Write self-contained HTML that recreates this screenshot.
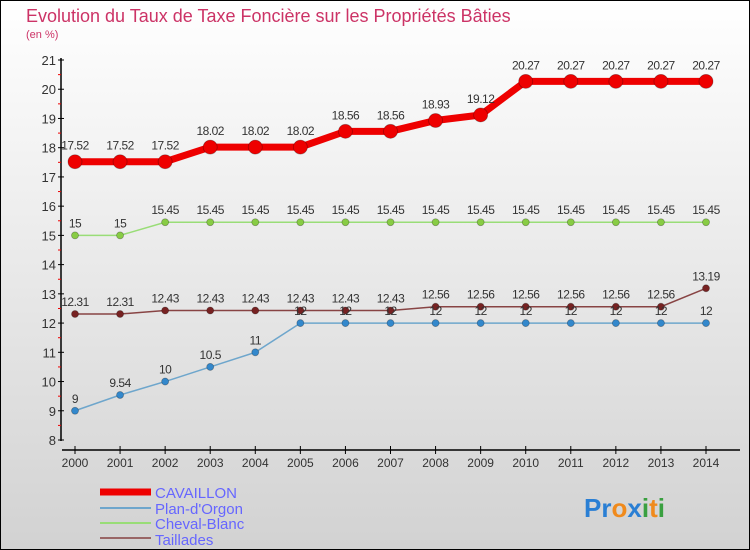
<!DOCTYPE html>
<html><head><meta charset="utf-8"><style>
body{margin:0}
svg{display:block}
text{font-family:"Liberation Sans",sans-serif}
</style></head><body>
<svg id="c" width="750" height="550">
<defs><linearGradient id="bg" x1="0" y1="0" x2="0" y2="1"><stop offset="0" stop-color="#ffffff"/><stop offset="1" stop-color="#d2d2d2"/></linearGradient></defs>
<rect x="0.5" y="0.5" width="749" height="549" fill="url(#bg)" stroke="#000"/>
<text x="26" y="22" font-size="18" fill="#cc3366">Evolution du Taux de Taxe Foncière sur les Propriétés Bâties</text>
<text x="26" y="38" font-size="11" fill="#cc3366">(en %)</text>
<g id="axes"></g><g id="series"></g>
<g>
<line x1="100" y1="492" x2="151" y2="492" stroke="#ee0000" stroke-width="7"/>
<text x="155" y="498" font-size="15" fill="#6666ff">CAVAILLON</text>
<line x1="100" y1="508" x2="151" y2="508" stroke="#6ea6cc" stroke-width="2"/>
<text x="155" y="514" font-size="15" fill="#6666ff">Plan-d'Orgon</text>
<line x1="100" y1="523" x2="151" y2="523" stroke="#99dd77" stroke-width="2"/>
<text x="155" y="529" font-size="15" fill="#6666ff">Cheval-Blanc</text>
<line x1="100" y1="538" x2="151" y2="538" stroke="#996666" stroke-width="2"/>
<text x="155" y="545" font-size="15" fill="#6666ff">Taillades</text>
</g>
<g font-size="26" font-weight="bold">
<text x="584" y="517"><tspan fill="#2a7fd4">Pr</tspan><tspan fill="#f08a1c">o</tspan><tspan fill="#2a7fd4">x</tspan><tspan fill="#3aa040">i</tspan><tspan fill="#f08a1c">t</tspan><tspan fill="#3aa040">i</tspan></text>
</g>
</svg>
<script>
const years=[2000,2001,2002,2003,2004,2005,2006,2007,2008,2009,2010,2011,2012,2013,2014];
const cavaillon=[17.52,17.52,17.52,18.02,18.02,18.02,18.56,18.56,18.93,19.12,20.27,20.27,20.27,20.27,20.27];
const plan=[9,9.54,10,10.5,11,12,12,12,12,12,12,12,12,12,12];
const cheval=[15,15,15.45,15.45,15.45,15.45,15.45,15.45,15.45,15.45,15.45,15.45,15.45,15.45,15.45];
const taillades=[12.31,12.31,12.43,12.43,12.43,12.43,12.43,12.43,12.56,12.56,12.56,12.56,12.56,12.56,13.19];
const yTicks=[8,9,10,11,12,13,14,15,16,17,18,19,20,21];
const NS="http://www.w3.org/2000/svg";
function xs(i){return 75+i*(706-75)/(years.length-1);}
function ys(v){return 440-(v-8)*(380/13);}
function mk(tag,attrs,parent){const e=document.createElementNS(NS,tag);for(const k in attrs)e.setAttribute(k,attrs[k]);parent.appendChild(e);return e;}
const ax=document.getElementById('axes');
let l=mk('line',{x1:61,y1:58,x2:61,y2:441,stroke:'#000','stroke-width':1.5},ax);


l=mk('line',{x1:62,y1:450,x2:740,y2:450,stroke:'#000','stroke-width':1.5},ax);


yTicks.forEach(v=>{const y=ys(v);
 mk('line',{x1:58,y1:y,x2:64,y2:y,stroke:'#000'},ax);
 if(v<21)mk('line',{x1:58,y1:y-14.6,x2:61,y2:y-14.6,stroke:'#e00'},ax);
 const t=mk('text',{x:56,y:y+5,'font-size':13,fill:'#333','text-anchor':'end'},ax);t.textContent=v;
 
 
});
years.forEach((yr,i)=>{const x=xs(i);
 mk('line',{x1:x,y1:446,x2:x,y2:454,stroke:'#000'},ax);
 const t=mk('text',{x:x,y:467,'font-size':12,fill:'#333','text-anchor':'middle'},ax);t.textContent=yr;
 
 
});
const sg=document.getElementById('series');
function draw(name,vals,color,dot,lw,r,lbl){
 const g=mk('g',{},sg);
 
 
 const p=mk('polyline',{points:vals.map((v,i)=>xs(i)+','+ys(v)).join(' '),fill:'none',stroke:color,'stroke-width':lw},g);
 
 
 vals.forEach((v,i)=>{
  const c=mk('circle',{cx:xs(i),cy:ys(v),r:r,fill:dot,stroke:'rgba(0,0,0,0.3)','stroke-width':0.8},g);
  
  
  const t=mk('text',{x:xs(i),y:ys(v)-lbl,'font-size':12,fill:'#333','text-anchor':'middle','letter-spacing':'-0.5'},g);t.textContent=v;
  
  
 });
}
draw('cheval',cheval,'#99dd77','#88cc44',1.5,3.5,8);
draw('taillades',taillades,'#884444','#772222',1.5,3.5,8);
draw('plan',plan,'#6ea6cc','#3388cc',1.5,3.5,8);
draw('cavaillon',cavaillon,'#ee0000','#ee0000',7,7,12);
</script>
</body></html>
